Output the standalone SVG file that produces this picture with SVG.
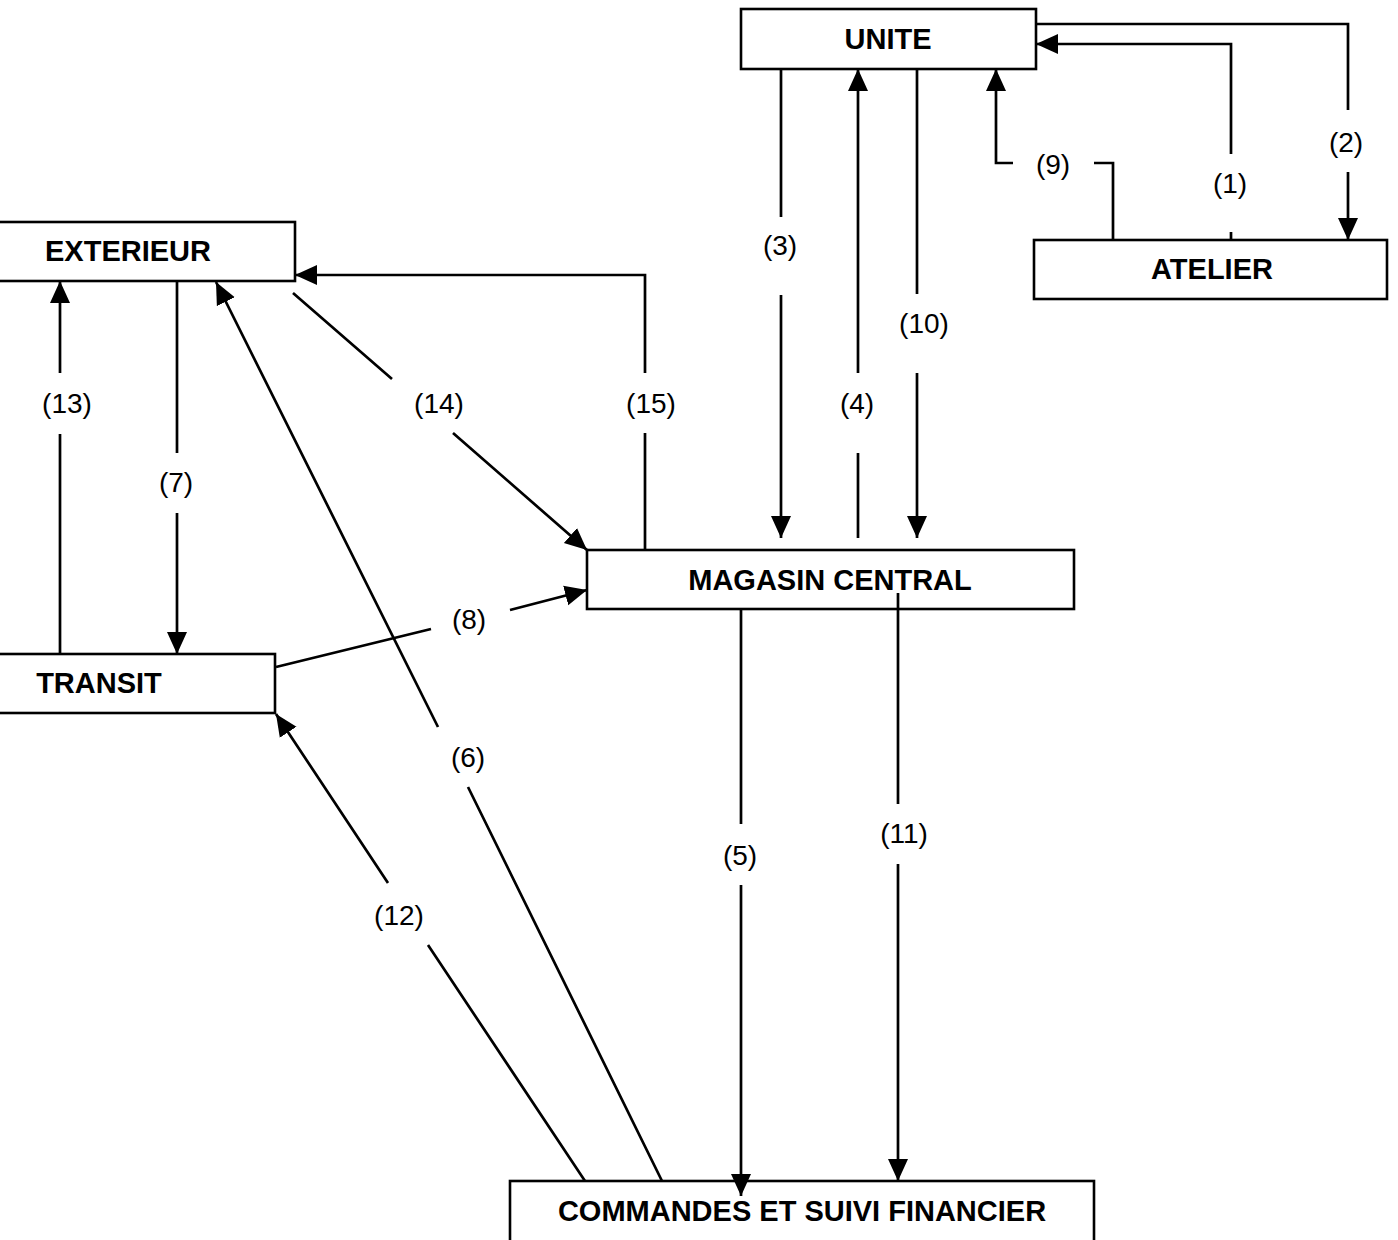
<svg xmlns="http://www.w3.org/2000/svg" width="1398" height="1240" viewBox="0 0 1398 1240">
<style>
.box{fill:#fff;stroke:#000;stroke-width:2.6}
.name{font-family:"Liberation Sans",Arial,sans-serif;font-weight:bold;font-size:29px;text-anchor:middle;fill:#000}
.lbl{font-family:"Liberation Sans",Arial,sans-serif;font-size:28px;text-anchor:middle;fill:#000}
.c{fill:none;stroke:#000;stroke-width:2.7}
.a{marker-end:url(#arr)}
</style>
<defs>
<marker id="arr" viewBox="0 0 22 22" refX="22" refY="11" markerWidth="22" markerHeight="22" markerUnits="userSpaceOnUse" orient="auto">
<path d="M0,1 L22,11 L0,21 z" fill="#000"/>
</marker>
</defs>
<rect width="1398" height="1240" fill="#fff"/>
<g id="unite">
<rect class="box" x="741" y="9" width="295" height="60"/>
<text class="name" x="888" y="49">UNITE</text>
</g>
<g id="atelier">
<rect class="box" x="1034" y="240" width="353" height="59"/>
<text class="name" x="1212" y="279">ATELIER</text>
</g>
<g id="exterieur">
<rect class="box" x="-5" y="222" width="300" height="59"/>
<text class="name" x="128" y="261">EXTERIEUR</text>
</g>
<g id="transit">
<rect class="box" x="-5" y="654" width="280" height="59"/>
<text class="name" x="99" y="693">TRANSIT</text>
</g>
<g id="magasin">
<rect class="box" x="587" y="550" width="487" height="59"/>
<text class="name" x="830" y="590">MAGASIN CENTRAL</text>
</g>
<g id="commandes">
<rect class="box" x="510" y="1181" width="584" height="62"/>
<text class="name" x="802" y="1221">COMMANDES ET SUIVI FINANCIER</text>
</g>
<g id="connectors">
<path class="c a" d="M1036,24 H1348 V110 M1348,172 V240"/>
<path class="c a" d="M1231,240 V232 M1231,154 V44 H1036"/>
<path class="c a" d="M1113,240 V163 H1094 M1013,163 H996 V69"/>
<path class="c a" d="M781,69 V217 M781,295 V538"/>
<path class="c a" d="M858,538 V453 M858,373 V69"/>
<path class="c a" d="M917,69 V294 M917,373 V538"/>
<path class="c a" d="M645,550 V433 M645,373 V275 H295"/>
<path class="c a" d="M293,293 L392,379 M453,433 L587,550"/>
<path class="c a" d="M60,654 V434 M60,373 V281"/>
<path class="c a" d="M177,281 V453 M177,513 V654"/>
<path class="c a" d="M662,1181 L468,787 M438,727 L216,282"/>
<path class="c a" d="M585,1181 L428,945 M388,883 L276,714"/>
<path class="c a" d="M276,667 L431,629 M510,610 L587,590"/>
<path class="c a" d="M741,609 V824 M741,885 V1196"/>
<path class="c a" d="M898,593 V804 M898,864 V1181"/>
</g>
<g id="labels">
<text class="lbl" x="1346" y="152">(2)</text>
<text class="lbl" x="1230" y="193">(1)</text>
<text class="lbl" x="1053" y="174">(9)</text>
<text class="lbl" x="780" y="255">(3)</text>
<text class="lbl" x="924" y="333">(10)</text>
<text class="lbl" x="857" y="413">(4)</text>
<text class="lbl" x="651" y="413">(15)</text>
<text class="lbl" x="439" y="413">(14)</text>
<text class="lbl" x="67" y="413">(13)</text>
<text class="lbl" x="176" y="492">(7)</text>
<text class="lbl" x="469" y="629">(8)</text>
<text class="lbl" x="468" y="767">(6)</text>
<text class="lbl" x="740" y="865">(5)</text>
<text class="lbl" x="904" y="843">(11)</text>
<text class="lbl" x="399" y="925">(12)</text>
</g>
</svg>
